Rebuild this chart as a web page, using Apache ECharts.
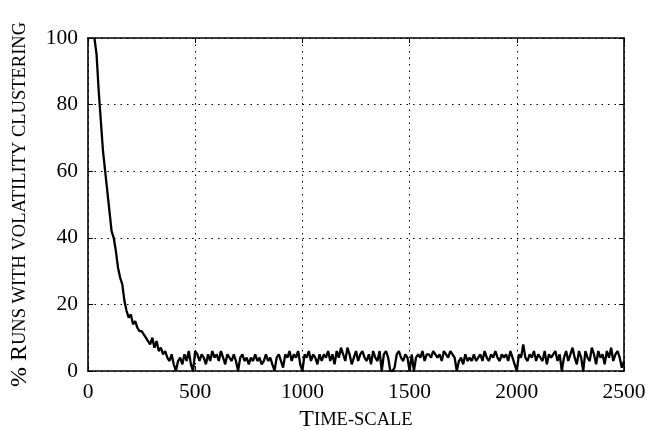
<!DOCTYPE html>
<html><head><meta charset="utf-8">
<script src="https://cdn.jsdelivr.net/npm/echarts@6/dist/echarts.min.js"></script>
<style>html,body{margin:0;padding:0;background:#fff}#c{width:648px;height:430px}</style>
</head><body><div id="c"></div>
<script>
// Time-scale values (step 10 from 30 to 2500)
const xStart = 30, xStep = 10;
const decay = [100,95,84,75,66,60,54,48,42,40,36,31,28,26,21,18,16,17,14,15,13,12,12,11,10,9,8,10,7,9,6,7,5,6,4,3,5,2,0,3,4,2,5,3,6,2,0];
const noise = [
  6,5,3,5,4,2,5,3,6,4,
  5,3,6,4,2,5,4,3,5,3,
  0,4,5,3,4,2,4,3,5,3,
  4,2,3,5,3,4,2,0,4,5,
  3,1,5,4,6,3,5,4,6,2,
  0,5,4,6,3,5,4,2,5,3,
  5,4,6,3,5,2,6,4,7,5,
  3,7,5,2,4,6,3,5,6,4,
  3,5,2,6,4,3,6,0,5,6,
  4,0,0,1,5,6,4,3,5,4,
  0,5,0,4,5,4,6,3,5,5,
  4,6,5,4,5,3,6,5,4,6,
  5,4,0,3,4,2,5,3,4,3,
  5,3,4,5,3,6,4,3,5,4,
  6,4,3,5,4,5,3,6,4,2,
  0,5,4,8,4,3,5,4,6,3,
  5,4,3,6,2,5,4,5,6,3,
  5,0,4,6,3,5,7,4,2,6,
  4,0,6,4,3,7,5,2,6,4,
  5,2,6,4,7,3,5,6,4,1,
  3
];
const values = decay.concat(noise);
const xTicks = [0,500,1000,1500,2000,2500];
const yTicks = [0,20,40,60,80,100];

const data = values.map((v,i)=>[xStart + i*xStep, v]);
const font = 'Liberation Serif';
const axisBase = {
  type:'value',
  axisLine:{show:true,onZero:false,lineStyle:{color:'#000',width:1.6}},
  axisTick:{show:true,inside:true,length:5,lineStyle:{color:'#000',width:1}},
  splitLine:{show:false}
};
const rich = {a:{fontFamily:font,fontSize:24,color:'#000'},b:{fontFamily:font,fontSize:18.5,color:'#000'}};
const chart = echarts.init(document.getElementById('c'));
chart.setOption({
  animation:false,
  backgroundColor:'#fff',
  grid:{left:88,right:24,top:38,bottom:59,containLabel:false,outerBoundsMode:'none'},
  xAxis:[
    Object.assign({}, axisBase, {min:xTicks[0],max:xTicks[xTicks.length-1],interval:500,position:'bottom',
      axisLabel:{color:'#000',fontFamily:font,fontSize:21.5,margin:10,formatter:v=>String(v)},
      splitLine:{show:true,lineStyle:{color:'#000',type:[1.5,5],width:1}},
      name:'{a|T}{b|IME-SCALE}', nameLocation:'middle', nameGap:32,
      nameTextStyle:{rich:rich}
    }),
    Object.assign({}, axisBase, {min:xTicks[0],max:xTicks[xTicks.length-1],interval:500,position:'top',axisLabel:{show:false}})
  ],
  yAxis:[
    Object.assign({}, axisBase, {min:yTicks[0],max:yTicks[yTicks.length-1],interval:20,position:'left',
      axisLabel:{color:'#000',fontFamily:font,fontSize:21.5,margin:10,formatter:v=>String(v)},
      splitLine:{show:true,lineStyle:{color:'#000',type:[1.5,5],width:1}},
      name:'{a|% R}{b|UNS WITH VOLATILITY CLUSTERING}', nameLocation:'middle', nameGap:56, nameRotate:90,
      nameTextStyle:{rich:rich}
    }),
    Object.assign({}, axisBase, {min:yTicks[0],max:yTicks[yTicks.length-1],interval:20,position:'right',axisLabel:{show:false}})
  ],
  series:[{type:'line',data:data,showSymbol:false,symbol:'none',clip:true,
    lineStyle:{color:'#000',width:2.3},xAxisIndex:0,yAxisIndex:0}]
});
</script></body></html>
